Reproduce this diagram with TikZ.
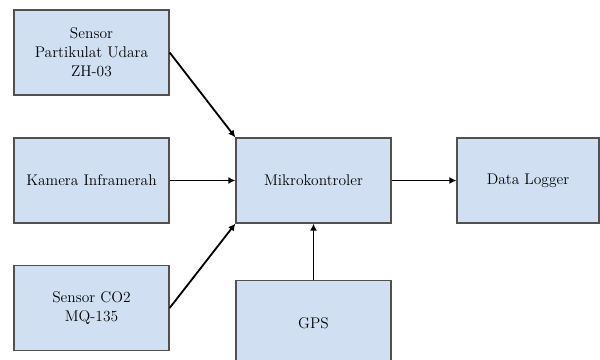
\documentclass[tikz,border=0pt]{standalone}
\usetikzlibrary{arrows.meta}
\definecolor{boxfill}{RGB}{208,224,242}
\definecolor{boxline}{RGB}{80,80,80}
\tikzset{
  block/.style={draw=boxline, line width=0.9pt, fill=boxfill, minimum width=3.875cm,
      minimum height=2.125cm, align=center, font=\fontsize{11}{13.5}\selectfont, inner sep=0pt},
  link/.style={line width=1.3pt, -{Latex[length=5pt, width=5pt]}},
}

\begin{document}
\begin{tikzpicture}[x=0.025cm, y=-0.025cm]
  \clip (0,0) rectangle (600,360);
  \node[block] (dust) at (91.5,52.5) {Sensor\\Partikulat Udara\\ZH-03};
  \node[block] (cam) at (91.5,180.5) {Kamera Inframerah};
  \node[block] (gas) at (91.5,308) {Sensor CO2\\MQ-135};
  \node[block] (mcu) at (313.5,180.5) {Mikrokontroler};
  \node[block, minimum width=3.55cm] (log) at (528,180.5) {Data Logger};
  \node[block] (gps) at (313.5,323) {GPS};
  \draw[link] (dust.east) -- (mcu.north west);
  \draw[link] (cam.east) -- (mcu.west);
  \draw[link] (gas.east) -- (mcu.south west);
  \draw[link] (mcu.east) -- (log.west);
  \draw[link] (gps.north) -- (mcu.south);
\end{tikzpicture}
\end{document}
